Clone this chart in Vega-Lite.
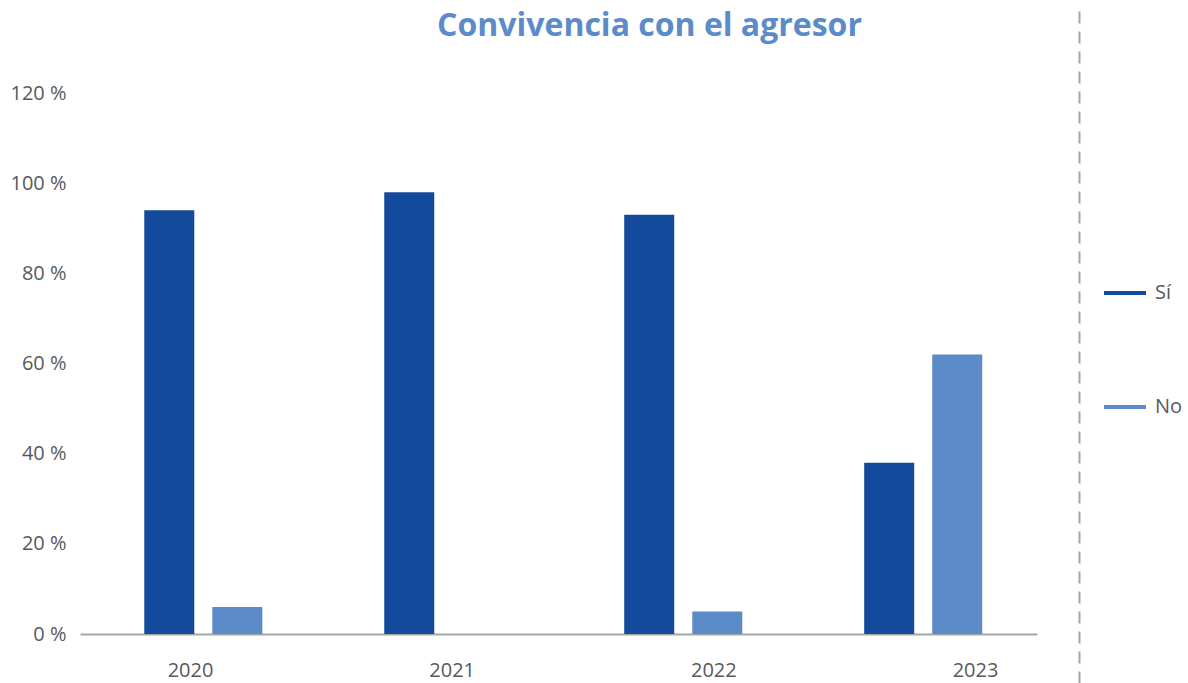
{
  "$schema": "https://vega.github.io/schema/vega-lite/v6.json",
  "autosize": "none",
  "width": 999,
  "height": 541,
  "padding": {"left": 80, "top": 93, "right": 109, "bottom": 49},
  "background": "white",
  "title": {
    "text": "Convivencia con el agresor",
    "font": "Open Sans",
    "fontSize": 32,
    "fontWeight": "bold",
    "color": "#5B8BC9",
    "anchor": "middle",
    "frame": "group",
    "dx": 70,
    "dy": -36
  },
  "data": {
    "values": [
      {"year": "2020", "category": "Sí", "pct": 94},
      {"year": "2020", "category": "No", "pct": 6},
      {"year": "2021", "category": "Sí", "pct": 98},
      {"year": "2021", "category": "No", "pct": 0},
      {"year": "2022", "category": "Sí", "pct": 93},
      {"year": "2022", "category": "No", "pct": 5},
      {"year": "2023", "category": "Sí", "pct": 38},
      {"year": "2023", "category": "No", "pct": 62}
    ]
  },
  "layer": [
    {
      "mark": {"type": "bar"},
      "encoding": {
        "x": {
          "field": "year",
          "type": "ordinal",
          "scale": {"range": [0, 957], "paddingInner": 0.508, "paddingOuter": 0.248, "align": 0.54},
          "axis": {"labels": false, "ticks": false, "domain": true, "domainColor": "#A6A6A6", "domainWidth": 2, "title": null, "grid": false, "orient": "bottom"}
        },
        "xOffset": {
          "field": "category",
          "type": "nominal",
          "sort": ["Sí", "No"],
          "scale": {"paddingInner": 0.265, "paddingOuter": 0}
        },
        "y": {
          "field": "pct",
          "type": "quantitative",
          "scale": {"domain": [0, 120], "nice": false},
          "axis": {
            "values": [0, 20, 40, 60, 80, 100, 120],
            "labelExpr": "datum.value + ' %'",
            "grid": false,
            "domain": false,
            "ticks": false,
            "labelPadding": 14,
            "labelFont": "Open Sans",
            "labelFontSize": 20,
            "labelColor": "#595959",
            "title": null,
            "orient": "left"
          }
        },
        "color": {
          "field": "category",
          "type": "nominal",
          "scale": {"domain": ["Sí", "No"], "range": ["#134A9B", "#5B8BC9"]},
          "legend": {
            "title": null,
            "orient": "none",
            "legendX": 1024,
            "legendY": 179,
            "padding": 0,
            "symbolType": "M-1,-0.1L1,-0.1L1,0.1L-1,0.1Z",
            "symbolSize": 1764,
            "symbolStrokeWidth": 0,
            "symbolOpacity": 1,
            "labelOffset": 9,
            "labelFont": "Open Sans",
            "labelFontSize": 20,
            "labelColor": "#595959",
            "rowPadding": 83
          }
        }
      }
    },
    {
      "mark": {"type": "point", "opacity": 0},
      "encoding": {
        "x": {
          "field": "year",
          "type": "ordinal",
          "scale": {"type": "point", "range": [110, 895], "padding": 0},
          "axis": {
            "orient": "bottom",
            "domain": false,
            "ticks": false,
            "grid": false,
            "labelAngle": 0,
            "labelPadding": 26,
            "labelFont": "Open Sans",
            "labelFontSize": 20,
            "labelColor": "#595959",
            "title": null
          }
        }
      }
    },
    {
      "mark": {"type": "point", "opacity": 0},
      "encoding": {
        "y": {
          "field": "pct",
          "type": "quantitative",
          "scale": {"domain": [0, 120], "range": [590, -85], "nice": false, "zero": false, "clamp": true},
          "axis": {
            "orient": "right",
            "domain": true,
            "domainColor": "#A6A6A6",
            "domainWidth": 2,
            "domainDash": [12, 8],
            "labels": false,
            "ticks": false,
            "grid": false,
            "title": null
          }
        }
      }
    }
  ],
  "resolve": {
    "scale": {"x": "independent", "y": "independent"},
    "axis": {"x": "independent", "y": "independent"}
  },
  "config": {
    "view": {"stroke": null},
    "axis": {"grid": false}
  }
}
